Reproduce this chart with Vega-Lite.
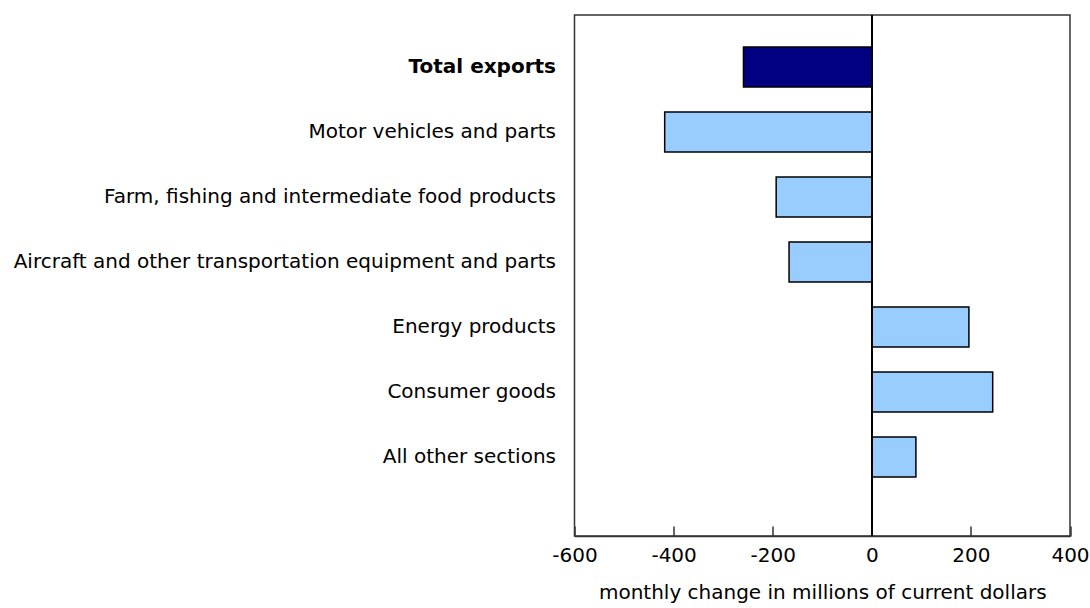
{
  "$schema": "https://vega.github.io/schema/vega-lite/v6.json",
  "autosize": {"type": "none"},
  "width": 495.5,
  "height": 521,
  "padding": {"left": 574.5, "top": 15, "right": 20, "bottom": 72},
  "background": "white",
  "config": {
    "font": "DejaVu Sans",
    "view": {"stroke": "#333333", "strokeWidth": 1.5}
  },
  "data": {
    "values": [
      {"category": "Total exports", "change": -259, "total": true},
      {"category": "Motor vehicles and parts", "change": -418, "total": false},
      {"category": "Farm, fishing and intermediate food products", "change": -193, "total": false},
      {"category": "Aircraft and other transportation equipment and parts", "change": -167, "total": false},
      {"category": "Energy products", "change": 196, "total": false},
      {"category": "Consumer goods", "change": 244, "total": false},
      {"category": "All other sections", "change": 89, "total": false}
    ]
  },
  "layer": [
    {
      "mark": {"type": "bar", "stroke": "black", "strokeWidth": 1.5},
      "encoding": {
        "y": {
          "field": "category",
          "type": "nominal",
          "sort": null,
          "scale": {"range": [19.5, 474.5], "paddingInner": 0.385, "paddingOuter": 0.1923},
          "axis": {
            "title": null,
            "domain": false,
            "ticks": false,
            "labelFontSize": 20,
            "labelColor": "black",
            "labelPadding": 19,
            "labelLimit": 700,
            "labelFontWeight": {"expr": "datum.value === 'Total exports' ? 'bold' : 'normal'"}
          }
        },
        "x": {
          "field": "change",
          "type": "quantitative",
          "scale": {"domain": [-600, 400], "nice": false, "zero": false},
          "axis": {
            "title": "monthly change in millions of current dollars",
            "titleFontSize": 20,
            "titleFontWeight": "normal",
            "titleColor": "black",
            "titlePadding": 17,
            "values": [-600, -400, -200, 0, 200, 400],
            "labelExpr": "datum.value + ''",
            "labelFontSize": 20,
            "labelColor": "black",
            "labelPadding": 19,
            "grid": false,
            "domain": true,
            "domainColor": "#333333",
            "domainWidth": 1.5,
            "tickColor": "#333333",
            "tickWidth": 1.5,
            "tickSize": -10,
            "labelFlush": false
          }
        },
        "color": {
          "field": "total",
          "type": "nominal",
          "scale": {"domain": [true, false], "range": ["#000080", "#99CCFF"]},
          "legend": null
        }
      }
    },
    {
      "mark": {"type": "rule", "color": "black", "strokeWidth": 1.5},
      "encoding": {
        "x": {"datum": 0}
      }
    }
  ]
}
